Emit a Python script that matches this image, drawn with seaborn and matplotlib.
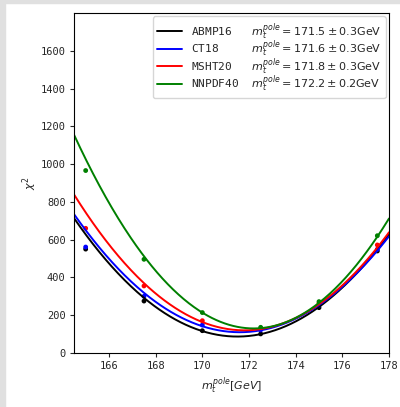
import numpy as np
import pandas as pd
import matplotlib
matplotlib.use("Agg")
import matplotlib.pyplot as plt
import seaborn as sns
from matplotlib.patches import Rectangle

# --- data ---
pdf_names = ["ABMP16", "CT18", "MSHT20", "NNPDF40"]
colors = ["black", "blue", "red", "green"]
mt_best = [171.5, 171.6, 171.8, 172.2]
mt_err = [0.3, 0.3, 0.3, 0.2]
chi2_min = [87, 110, 120, 130]
curvature = [12.8, 12.4, 13.5, 17.3]

mt_points = [165.0, 167.5, 170.0, 172.5, 175.0, 177.5]
chi2_abmp16 = [550, 275, 118, 101, 240, 540]
chi2_ct18 = [561, 300, 148, 122, 252, 549]
chi2_msht20 = [660, 355, 171, 128, 263, 572]
chi2_nnpdf40 = [966, 496, 214, 136, 272, 621]
chi2_points = [chi2_abmp16, chi2_ct18, chi2_msht20, chi2_nnpdf40]

x_ticks = [166, 168, 170, 172, 174, 176, 178]
y_ticks = [0, 200, 400, 600, 800, 1000, 1200, 1400, 1600]

sns.set_theme(style="ticks")
plt.rcParams["font.family"] = ["DejaVu Sans Mono"]
plt.rcParams["mathtext.fontset"] = "dejavusans"

fig = plt.figure(figsize=(4.0, 4.07), dpi=100)
ax = fig.add_axes([0.185, 0.1327, 0.7875, 0.8353])

xgrid = np.linspace(164.5, 178.0, 300)
rows = []
for name, m0, c0, a in zip(pdf_names, mt_best, chi2_min, curvature):
    for xv in xgrid:
        rows.append({"pdf": name, "mt": xv, "chi2": c0 + a * (xv - m0) ** 2})
curve_df = pd.DataFrame(rows)

pt_rows = []
for name, vals in zip(pdf_names, chi2_points):
    for xv, yv in zip(mt_points, vals):
        pt_rows.append({"pdf": name, "mt": xv, "chi2": yv})
pt_df = pd.DataFrame(pt_rows)

palette = dict(zip(pdf_names, colors))
sns.lineplot(data=curve_df, x="mt", y="chi2", hue="pdf", palette=palette,
             hue_order=pdf_names, ax=ax, linewidth=1.4, legend=False)
sns.scatterplot(data=pt_df, x="mt", y="chi2", hue="pdf", palette=palette,
                hue_order=pdf_names, ax=ax, s=12, linewidth=0, legend=False)

handles = []
labels = []
for name, col, m0, e in zip(pdf_names, colors, mt_best, mt_err):
    h, = ax.plot([], [], color=col, linewidth=1.4)
    handles.append(h)
    labels.append(f"{name:<9}" + r"$m_t^{pole} = " + f"{m0:.1f}" + r" \pm " + f"{e:.1f}" + r"\mathrm{GeV}$")
ax.legend(handles, labels, loc="upper right", fontsize=8, handlelength=2.2,
          labelspacing=-0.3, handletextpad=0.8, borderpad=0.4,
          frameon=True, borderaxespad=0.3)

ax.set_xlim(164.5, 178.0)
ax.set_ylim(0, 1800)
ax.set_xticks(x_ticks)
ax.set_yticks(y_ticks)
ax.tick_params(labelsize=7.5, length=3, width=0.8, direction="out", pad=3)
ax.set_xlabel(r"$m_t^{pole}[GeV]$", fontsize=8, labelpad=3)
ax.set_ylabel(r"$\chi^2$", fontsize=8, labelpad=1)
for s in ax.spines.values():
    s.set_visible(True)
    s.set_color("black")
    s.set_linewidth(0.8)

# light grey screenshot border
fig.patches.append(Rectangle((0, 0), 5 / 400, 1, transform=fig.transFigure,
                             color="#e0e0e0", zorder=-1))
fig.patches.append(Rectangle((0, 1 - 3 / 407), 1, 3 / 407, transform=fig.transFigure,
                             color="#e0e0e0", zorder=-1))

fig.savefig("out.png", dpi=100)
